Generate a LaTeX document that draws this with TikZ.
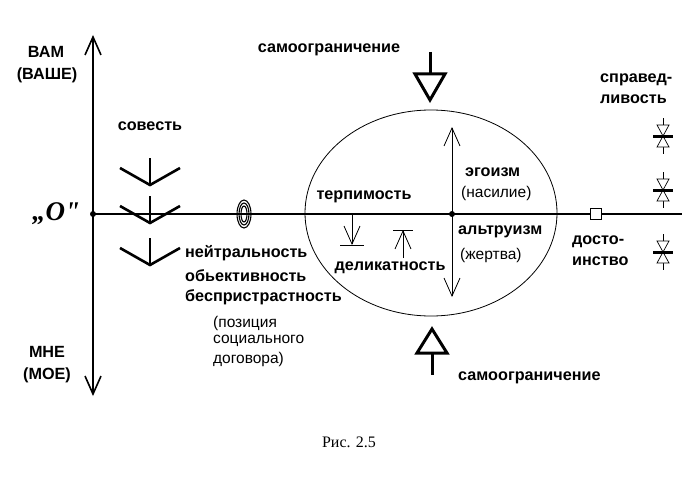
\documentclass[tikz,border=0pt]{standalone}
\usepackage{fontspec}
\setmainfont{Liberation Sans}
\newfontfamily\serifrm{Liberation Serif}
\usetikzlibrary{arrows.meta,shapes.geometric}
\tikzset{
  lbl/.style={font=\bfseries\fontsize{16.2}{18}\selectfont, inner sep=0pt},
  nrm/.style={font=\fontsize{15.5}{17}\selectfont, inner sep=0pt},
  axisline/.style={line width=1.6pt},
  thinline/.style={line width=0.8pt},
  barb/.style={-{Straight Barb[length=18pt,width=16pt]}},
  dbarb/.style={{Straight Barb[length=18pt,width=16pt]}-{Straight Barb[length=18pt,width=16pt]}},
  chev/.style={line width=2.6pt, line join=miter},
  bigarrow/.style={line width=3pt, line join=miter},
  valvetri/.style={line width=0.7pt, fill=white},
}
\begin{document}
\begin{tikzpicture}[x=1pt,y=-1pt]
\useasboundingbox (0,0) rectangle (700,500);
% axes
\coordinate (vtop) at (93,35);
\coordinate (vbot) at (93,396);
\coordinate (orig) at (93,214);
\coordinate (hend) at (682,214);
\draw[axisline,dbarb] (vbot) -- (vtop);
\draw[axisline] (orig) -- (hend);
\fill (orig) circle (3);
% ellipse
\node[draw, thinline, ellipse, minimum width=252pt, minimum height=206pt, inner sep=0pt] (ell) at (431,213) {};
\coordinate (cdot) at (452,214);
\fill (cdot) circle (3);
\coordinate (eg) at (452,127);
\coordinate (al) at (452,297);
\draw[thinline,dbarb] (al) -- (eg);
% concentric symbol
\foreach \rx/\ry in {7/14,5/11,3/8}
  \draw[line width=1.1pt] (244,214) ellipse [x radius=\rx, y radius=\ry];
% small arrows
\coordinate (t1) at (352,214);
\coordinate (t2) at (352,245);
\draw[thinline,barb] (t1) -- (t2);
\draw[thinline] (340,245) -- (364,245);
\coordinate (d1) at (403,258);
\coordinate (d2) at (403,230);
\draw[thinline,barb] (d1) -- (d2);
\draw[thinline] (393,230) -- (413,230);
% chevrons
\foreach \y in {185,223,265}{
  \draw[chev] (150,\y-27) -- (150,\y);
  \draw[chev] (120,\y-17) -- (150,\y) -- (180,\y-17);
}
% big arrows
\draw[bigarrow] (430,52) -- (430,74);
\draw[bigarrow] (415,74) -- (445,74) -- (430,100) -- cycle;
\draw[bigarrow] (432,329) -- (447,353) -- (417,353) -- cycle;
\draw[bigarrow] (432,353) -- (432,375);
% square
\node[draw, line width=1.5pt, fill=white, minimum size=11pt, inner sep=0pt] (sq) at (596,214) {};
% valves
\foreach \c in {136,190,252}{
  \draw[thinline] (663,\c-18) -- (663,\c+18);
  \draw[valvetri] (657,\c-11) -- (669,\c-11) -- (663,\c) -- cycle;
  \draw[valvetri] (657,\c+11) -- (669,\c+11) -- (663,\c) -- cycle;
  \draw[line width=3pt] (653,\c) -- (673,\c);
}
% labels
\node[lbl] (vam) at (46,52) {ВАМ};
\node[lbl] (vashe) at (47,75) {(ВАШЕ)};
\node[lbl] (mne) at (47,352) {МНЕ};
\node[lbl] (moe) at (47,375) {(МОЕ)};
\node[font=\serifrm\bfseries\itshape\fontsize{27}{29}\selectfont, inner sep=0pt] (o) at (56,214) {„O"};
\node[lbl] (sovest) at (150,126) {совесть};
\node[lbl] (samotop) at (329,50) {самоограничение};
\node[lbl, anchor=west] (neit) at (185,253) {нейтральность};
\node[lbl, anchor=west] (obj) at (185,276) {обьективность};
\node[lbl, anchor=west] (besp) at (185,297) {беспристрастность};
\node[nrm, anchor=west] (poz) at (213,323) {(позиция};
\node[nrm, anchor=west] (soc) at (213,341) {социального};
\node[nrm, anchor=west] (dog) at (213,359) {договора)};
\node[lbl] (terp) at (364,197) {терпимость};
\node[lbl] (delik) at (390,268) {деликатность};
\node[lbl, anchor=west] (ego) at (465,172) {эгоизм};
\node[nrm, anchor=west] (nas) at (461,193) {(насилие)};
\node[lbl, anchor=west] (altr) at (458,232) {альтруизм};
\node[nrm, anchor=west] (zhert) at (460,255) {(жертва)};
\node[lbl, anchor=west] (dosto) at (572,242) {досто-};
\node[lbl, anchor=west] (inst) at (572,261) {инство};
\node[lbl, anchor=west] (sprav) at (600,80) {справед-};
\node[lbl, anchor=west] (liv) at (600,99) {ливость};
\node[lbl, anchor=west] (samobot) at (458,378) {самоограничение};
\node[font=\serifrm\fontsize{16}{18}\selectfont, inner sep=0pt] (ris) at (349,442) {Рис. 2.5};
\end{tikzpicture}
\end{document}
